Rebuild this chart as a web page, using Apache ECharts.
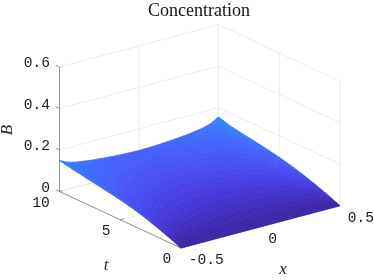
<!DOCTYPE html>
<html><head><meta charset="utf-8">
<style>html,body{margin:0;padding:0;background:#fff}#c{width:374px;height:280px}</style>
<script src="https://cdn.jsdelivr.net/npm/echarts@6/dist/echarts.min.js"></script>
</head><body><div id="c"></div>
<script>
// ---- data ----
const titleText = 'Concentration';
const xValues = [-0.5,-0.45,-0.4,-0.3,-0.2,-0.1,0,0.1,0.2,0.3,0.4,0.45,0.5];
const tValues = [0,0.5,1,2,3,4,5,6,7,8,9,10];
// B(x,t): one row per t, one column per x
const B00 = [0,0,0,0,0,0,0,0,0,0,0,0,0];
const B01 = [.012,.007,.005,.004,.003,.003,.003,.003,.003,.004,.005,.007,.012];
const B02 = [.024,.015,.011,.008,.0075,.007,.007,.007,.0075,.008,.011,.015,.024];
const B03 = [.046,.033,.026,.020,.018,.016,.016,.016,.018,.020,.026,.033,.046];
const B04 = [.066,.049,.040,.033,.029,.027,.026,.027,.029,.033,.040,.049,.066];
const B05 = [.083,.063,.054,.045,.040,.037,.036,.037,.040,.045,.054,.063,.083];
const B06 = [.096,.076,.066,.056,.051,.048,.046,.048,.051,.056,.066,.076,.097];
const B07 = [.107,.087,.077,.067,.061,.058,.056,.058,.061,.067,.077,.087,.109];
const B08 = [.117,.098,.088,.078,.072,.068,.066,.068,.072,.078,.088,.098,.119];
const B09 = [.127,.109,.099,.089,.083,.078,.076,.078,.083,.089,.099,.109,.128];
const B10 = [.137,.120,.110,.100,.092,.088,.086,.088,.092,.100,.110,.121,.138];
const B11 = [.149,.131,.121,.110,.103,.098,.096,.098,.103,.110,.122,.133,.156];
const surfaceB = [B00,B01,B02,B03,B04,B05,B06,B07,B08,B09,B10,B11];
const xTicks = [-0.5,0,0.5], xTickLabels = ['-0.5','0','0.5'];
const tTicks = [0,5,10],     tTickLabels = ['0','5','10'];
const zTicks = [0,0.2,0.4,0.6], zTickLabels = ['0','0.2','0.4','0.6'];
const colorLevels = ['#3E26A8','#402AB4','#422EC0','#4332CB','#4537D5','#463CDE','#4741E5','#4747EB','#484DF0','#4852F4','#4758F8','#465EFB','#4563FC','#4269FE','#3F6FFF','#3E75FF','#387BFE','#3280FC','#2E85F9','#2D87F7','#2B8CF3','#2B91EF'];
// ---- view ----
const colorMax = 0.5;
const view = {ox:181, oy:248, xu:159, xv:-42.3, tu:-121.5, tv:-56.5, zv:-207.5};
const xMin=-0.5, xMax=0.5, tMin=0, tMax=10, zMax=0.6;
function project(x,t,z){
  const a=(x-xMin)/(xMax-xMin), b=(t-tMin)/(tMax-tMin);
  return [view.ox+a*view.xu+b*view.tu, view.oy+a*view.xv+b*view.tv+z*view.zv];
}
function levelColor(z){
  const i=Math.max(0,Math.min(colorLevels.length-1,Math.floor(z/colorMax*64)));
  return colorLevels[i];
}
const chart = echarts.init(document.getElementById('c'),null,{renderer:'canvas'});
const cells=[];
for(let j=tValues.length-2;j>=0;j--) for(let i=xValues.length-2;i>=0;i--) cells.push([i,j]);
const SUB=5;
function renderCell(params,api){
  const i=api.value(0), j=api.value(1);
  const x0=xValues[i],x1=xValues[i+1],t0=tValues[j],t1=tValues[j+1];
  const a=surfaceB[j][i],b=surfaceB[j][i+1],c=surfaceB[j+1][i],d=surfaceB[j+1][i+1];
  const zAt=(p,q)=>a*(1-p)*(1-q)+b*p*(1-q)+c*(1-p)*q+d*p*q;
  const pt=(p,q)=>api.coord(project(x0+(x1-x0)*p,t0+(t1-t0)*q,zAt(p,q)));
  const children=[];
  for(let m=SUB-1;m>=0;m--) for(let n=SUB-1;n>=0;n--){
    const p0=n/SUB,p1=(n+1)/SUB,q0=m/SUB,q1=(m+1)/SUB;
    const col=levelColor(zAt((p0+p1)/2,(q0+q1)/2));
    children.push({type:'polygon',shape:{points:[pt(p0,q0),pt(p1,q0),pt(p1,q1),pt(p0,q1)]},
      style:{fill:col,stroke:col,lineWidth:0.7}});
  }
  return {type:'group',children};
}
// line segments: [x0,t0,z0,x1,t1,z1]
const gridLines=[], axisLines=[];
zTicks.forEach(z=>{gridLines.push([xMin,tMax,z,xMax,tMax,z]);gridLines.push([xMax,tMax,z,xMax,tMin,z]);});
xTicks.forEach(x=>{gridLines.push([x,tMax,0,x,tMax,zMax]);gridLines.push([x,tMin,0,x,tMax,0]);});
tTicks.forEach(t=>{gridLines.push([xMax,t,0,xMax,t,zMax]);gridLines.push([xMin,t,0,xMax,t,0]);});
axisLines.push([xMin,tMax,0,xMin,tMax,zMax],[xMin,tMin,0,xMin,tMax,0],[xMin,tMin,0,xMax,tMin,0]);
zTicks.forEach(z=>axisLines.push([xMin,tMax,z,xMin,tMax+0.3,z]));
tTicks.forEach(t=>axisLines.push([xMin,t,0,xMin+0.02,t,0]));
xTicks.forEach(x=>axisLines.push([x,tMin,0,x,tMin+0.3,0]));
function segRender(color,width){
  return function(params,api){
    const s=[0,1,2,3,4,5].map(k=>api.value(k));
    const A=api.coord(project(s[0],s[1],s[2])),B=api.coord(project(s[3],s[4],s[5]));
    return {type:'line',shape:{x1:A[0],y1:A[1],x2:B[0],y2:B[1]},style:{stroke:color,lineWidth:width}};
  };
}
const labelFont='"Liberation Mono"';
const labels=[];
zTicks.forEach((z,k)=>labels.push({value:[xMin,tMax,z],text:zTickLabels[k],dx:-9.5,dy:-3.5,align:'right'}));
tTicks.forEach((t,k)=>labels.push({value:[xMin,t,0],text:tTickLabels[k],dx:-9.8,dy:11.3,align:'right'}));
xTicks.forEach((x,k)=>labels.push({value:[x,tMin,0],text:xTickLabels[k],dx:7.8,dy:12,align:'left'}));
function labelRender(params,api){
  const L=labels[params.dataIndex];
  const P=api.coord(project(api.value(0),api.value(1),api.value(2)));
  return {type:'text',x:P[0]+L.dx,y:P[1]+L.dy,style:{text:L.text,fontFamily:labelFont,fontSize:14.6,fill:'#1c1c1c',textAlign:L.align,textVerticalAlign:'middle'}};
}
const noTip={silent:true,clip:false,animation:false};
const axisNameStyle={fontFamily:'"Liberation Serif"',fontStyle:'italic',fontSize:17,fill:'#262626',textAlign:'center',textVerticalAlign:'middle'};
chart.setOption({
  animation:false,
  backgroundColor:'#fff',
  title:{text:titleText,left:194,top:-3,textAlign:'center',textStyle:{fontFamily:'"Liberation Serif"',fontSize:18,fontWeight:'normal',color:'#111'}},
  grid:{left:0,right:0,top:0,bottom:0,containLabel:false},
  xAxis:{type:'value',min:0,max:374,show:false},
  yAxis:{type:'value',min:0,max:280,inverse:true,show:false},
  graphic:[
    {type:'text',x:106,y:266,style:Object.assign({text:'t'},axisNameStyle)},
    {type:'text',x:283,y:270,style:Object.assign({text:'x'},axisNameStyle)},
    {type:'text',x:8,y:130,rotation:Math.PI/2,style:Object.assign({text:'B'},axisNameStyle)}
  ],
  series:[
    Object.assign({type:'custom',name:'grid',data:gridLines,renderItem:segRender('#ececec',1),z:1},noTip),
    Object.assign({type:'custom',name:'axes',data:axisLines,renderItem:segRender('#8a8a8a',0.9),z:2},noTip),
    Object.assign({type:'custom',name:'B',data:cells,renderItem:renderCell,z:3},noTip),
    Object.assign({type:'custom',name:'labels',data:labels.map(l=>l.value),renderItem:labelRender,z:4},noTip)
  ]
});
</script></body></html>
